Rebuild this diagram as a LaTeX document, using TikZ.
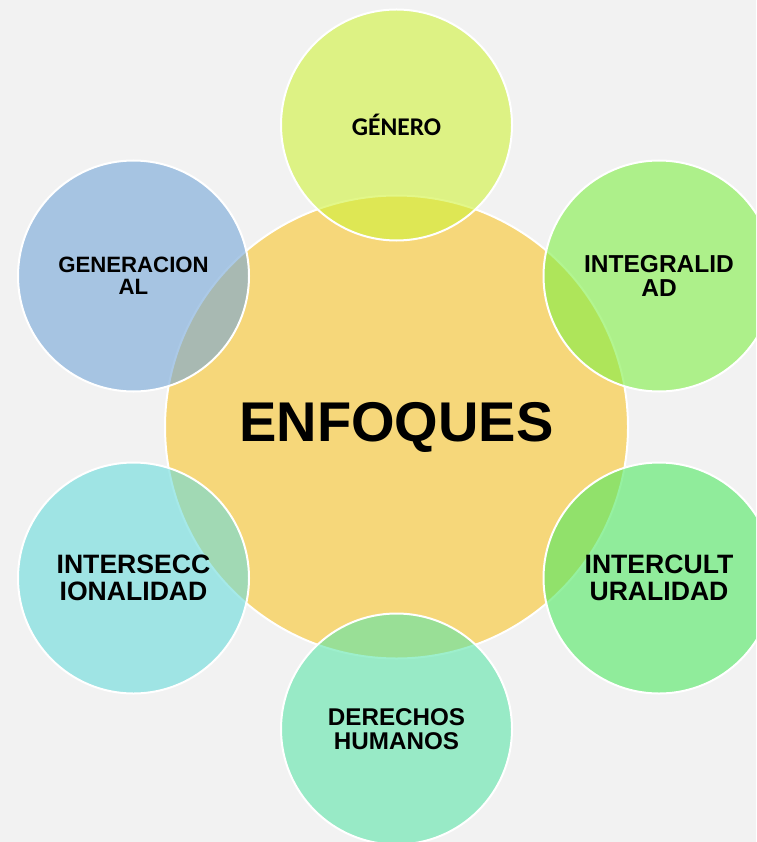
\documentclass[tikz,border=0pt]{standalone}
\usepackage{fontspec}
\setmainfont{Liberation Sans}
\newfontfamily\calib{Carlito}
\definecolor{bgc}{RGB}{242,242,242}
\definecolor{cyel}{RGB}{246,215,122}
\definecolor{cgen}{RGB}{207,242,59}
\definecolor{cint}{RGB}{127,239,70}
\definecolor{cgnr}{RGB}{116,166,216}
\definecolor{csec}{RGB}{105,219,219}
\definecolor{ccul}{RGB}{79,232,97}
\definecolor{cddh}{RGB}{92,229,170}
\begin{document}
\begin{tikzpicture}[x=1pt,y=-1pt,
  ring/.style={circle, draw=white, line width=2pt, minimum size=231pt, inner sep=0pt,
    fill opacity=0.6, text opacity=1, align=center, text=black},
  lbl/.style={font=\fontsize{#1}{#1}\selectfont\bfseries}]
\useasboundingbox (0,0) rectangle (756,842);
\fill[bgc] (0,0) rectangle (756,842);
\clip (0,0) rectangle (756,842);
\node[circle, draw=white, line width=2pt, fill=cyel, minimum size=463pt, inner sep=0pt,
  font=\fontsize{56}{60}\selectfont\bfseries] (c) at (396.5,427) {ENFOQUES};
\node[ring, fill=cgen, font=\calib\fontsize{25.5}{27}\selectfont\bfseries] (gen) at (396.5,125) {GÉNERO};
\node[ring, fill=cint, lbl=24.5] (integ) at (659,276) {INTEGRALID\\AD};
\node[ring, fill=ccul, lbl=26.6] (cult) at (659,578) {INTERCULT\\URALIDAD};
\node[ring, fill=cddh, lbl=24.2] (ddhh) at (396.5,729) {DERECHOS\\HUMANOS};
\node[ring, fill=csec, lbl=26.6] (sec) at (133.5,578) {INTERSECC\\IONALIDAD};
\node[ring, fill=cgnr, lbl=22.2] (gnr) at (133.5,276) {GENERACION\\AL};
\end{tikzpicture}
\end{document}
